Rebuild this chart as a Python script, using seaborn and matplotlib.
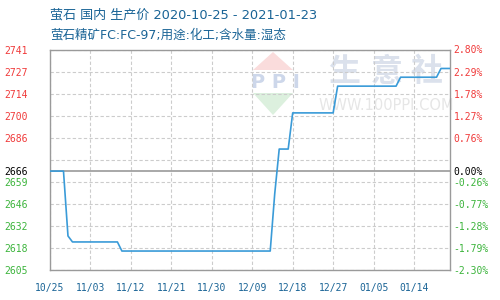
import matplotlib
matplotlib.use("Agg")
import matplotlib.pyplot as plt
import seaborn as sns
import pandas as pd
from matplotlib.patches import Polygon

# ---------------- data ----------------
dates = ["2020-10-25", "2020-10-28", "2020-10-29", "2020-10-30", "2020-11-09",
         "2020-11-10", "2020-12-13", "2020-12-14", "2020-12-15", "2020-12-17",
         "2020-12-18", "2020-12-27", "2020-12-28", "2021-01-10", "2021-01-11",
         "2021-01-19", "2021-01-20", "2021-01-22"]
prices = [2666, 2666, 2626, 2622.3, 2622.3,
          2616.7, 2616.7, 2652, 2679.6, 2679.6,
          2701.9, 2701.9, 2718.4, 2718.4, 2723.9,
          2723.9, 2729.3, 2729.3]

y_grid = [2605, 2618.6, 2632.2, 2645.8, 2659.4, 2673, 2686.6, 2700.2, 2713.8, 2727.4, 2741]
y_labels = ["2605", "2618", "2632", "2646", "2659", "", "2686", "2700", "2714", "2727", "2741"]
pct_labels = ["-2.30%", "-1.79%", "-1.28%", "-0.77%", "-0.26%", "", "0.76%", "1.27%",
              "1.78%", "2.29%", "2.80%"]
base_price = 2666
base_label = "2666"
base_pct = "0.00%"

tick_dates = ["2020-10-25", "2020-11-03", "2020-11-12", "2020-11-21", "2020-11-30",
              "2020-12-09", "2020-12-18", "2020-12-27", "2021-01-05", "2021-01-14"]
tick_labels = ["10/25", "11/03", "11/12", "11/21", "11/30",
               "12/09", "12/18", "12/27", "01/05", "01/14"]
x_start, x_end = "2020-10-25", "2021-01-22"

title = "萤石 国内 生产价 2020-10-25 - 2021-01-23"
subtitle = "萤石精矿FC:FC-97;用途:化工;含水量:湿态"

# ---------------- style ----------------
sns.set_style("white")
plt.rcParams["font.family"] = ["Noto Sans CJK SC", "DejaVu Sans"]

RED = "#f03a3a"
GREEN = "#3cb43c"
BLUE_TXT = "#1a6496"
LINE = "#3a9bd8"
SPINE = "#9a9a9a"
GRID = "#cccccc"

df = pd.DataFrame({"date": pd.to_datetime(dates), "price": prices})

fig = plt.figure(figsize=(5, 3), dpi=100)
ax = fig.add_axes([0.1, 0.1, 0.8, 0.735])

def px(x, y):
    return (x / 500.0, 1 - y / 300.0)

# watermark (behind data)
wm_kw = dict(transform=fig.transFigure, clip_on=False, zorder=0.3)
ax.add_patch(Polygon([px(253, 70), px(293, 70), px(273, 52)], closed=True,
                     facecolor="#fadcdc", edgecolor="none", **wm_kw))
ax.add_patch(Polygon([px(253, 93), px(293, 93), px(273, 115)], closed=True,
                     facecolor="#dcf0de", edgecolor="none", **wm_kw))
ax.text(*px(275, 83), "P P I", fontsize=14, fontweight="bold", color="#cdd7ea",
        ha="center", va="center", family=["DejaVu Sans"], **wm_kw)
for cx, ch in zip([344, 387, 427], ["生", "意", "社"]):
    ax.text(*px(cx, 72), ch, fontsize=23, color="#dbe1ec", ha="center", va="center",
            fontweight="bold", **wm_kw)
ax.text(*px(386, 106), "WWW.100PPI.COM", fontsize=10.5, color="#e6e6e6",
        ha="center", va="center", family=["DejaVu Sans"], **wm_kw)

sns.lineplot(data=df, x="date", y="price", ax=ax, color=LINE, linewidth=1.2,
             zorder=3, legend=False)

ax.set_xlim(pd.Timestamp(x_start), pd.Timestamp(x_end))
ax.set_ylim(y_grid[0], y_grid[-1])
ax.set_xlabel("")
ax.set_ylabel("")

# grid
ax.set_yticks(y_grid)
ax.set_yticklabels(y_labels)
ax.set_xticks(pd.to_datetime(tick_dates))
ax.set_xticklabels(tick_labels)
ax.grid(True, which="major", color=GRID, linestyle=(0, (3, 2)), linewidth=0.8)
ax.set_axisbelow(True)
ax.axhline(base_price, color=SPINE, linewidth=1.2, zorder=2)

ax.set_yticks([base_price], minor=True)
ax.set_yticklabels([base_label], minor=True)

mono = ["DejaVu Sans Mono"]
ax.tick_params(axis="y", which="both", length=0, pad=16, labelsize=7)
ax.tick_params(axis="x", length=0, pad=9, labelsize=7, labelcolor=BLUE_TXT)
for lbl in ax.get_xticklabels():
    lbl.set_family(mono)
for lbl, v in zip(ax.get_yticklabels(), y_grid):
    lbl.set_family(mono)
    lbl.set_color(RED if v > base_price else GREEN)
for lbl in ax.get_yticklabels(minor=True):
    lbl.set_family(mono)
    lbl.set_color("black")

for s in ax.spines.values():
    s.set_color(SPINE)
    s.set_linewidth(1.0)

# right axis
ax2 = ax.twinx()
ax2.set_ylim(y_grid[0], y_grid[-1])
ax2.set_yticks(y_grid)
ax2.set_yticklabels(pct_labels)
ax2.set_yticks([base_price], minor=True)
ax2.set_yticklabels([base_pct], minor=True)
ax2.tick_params(axis="y", which="both", length=0, pad=2.5, labelsize=7)
for lbl, v in zip(ax2.get_yticklabels(), y_grid):
    lbl.set_family(mono)
    lbl.set_color(RED if v > base_price else GREEN)
for lbl in ax2.get_yticklabels(minor=True):
    lbl.set_family(mono)
    lbl.set_color("black")
for s in ax2.spines.values():
    s.set_visible(False)

head_font = ["DejaVu Sans", "Noto Sans CJK SC"]
fig.text(*px(50, 15), title, fontsize=9.4, color=BLUE_TXT, ha="left", va="center",
         family=head_font)
fig.text(*px(50, 35), subtitle, fontsize=9, color=BLUE_TXT, ha="left", va="center",
         family=head_font)

fig.savefig("out.png", dpi=100, facecolor="white")
